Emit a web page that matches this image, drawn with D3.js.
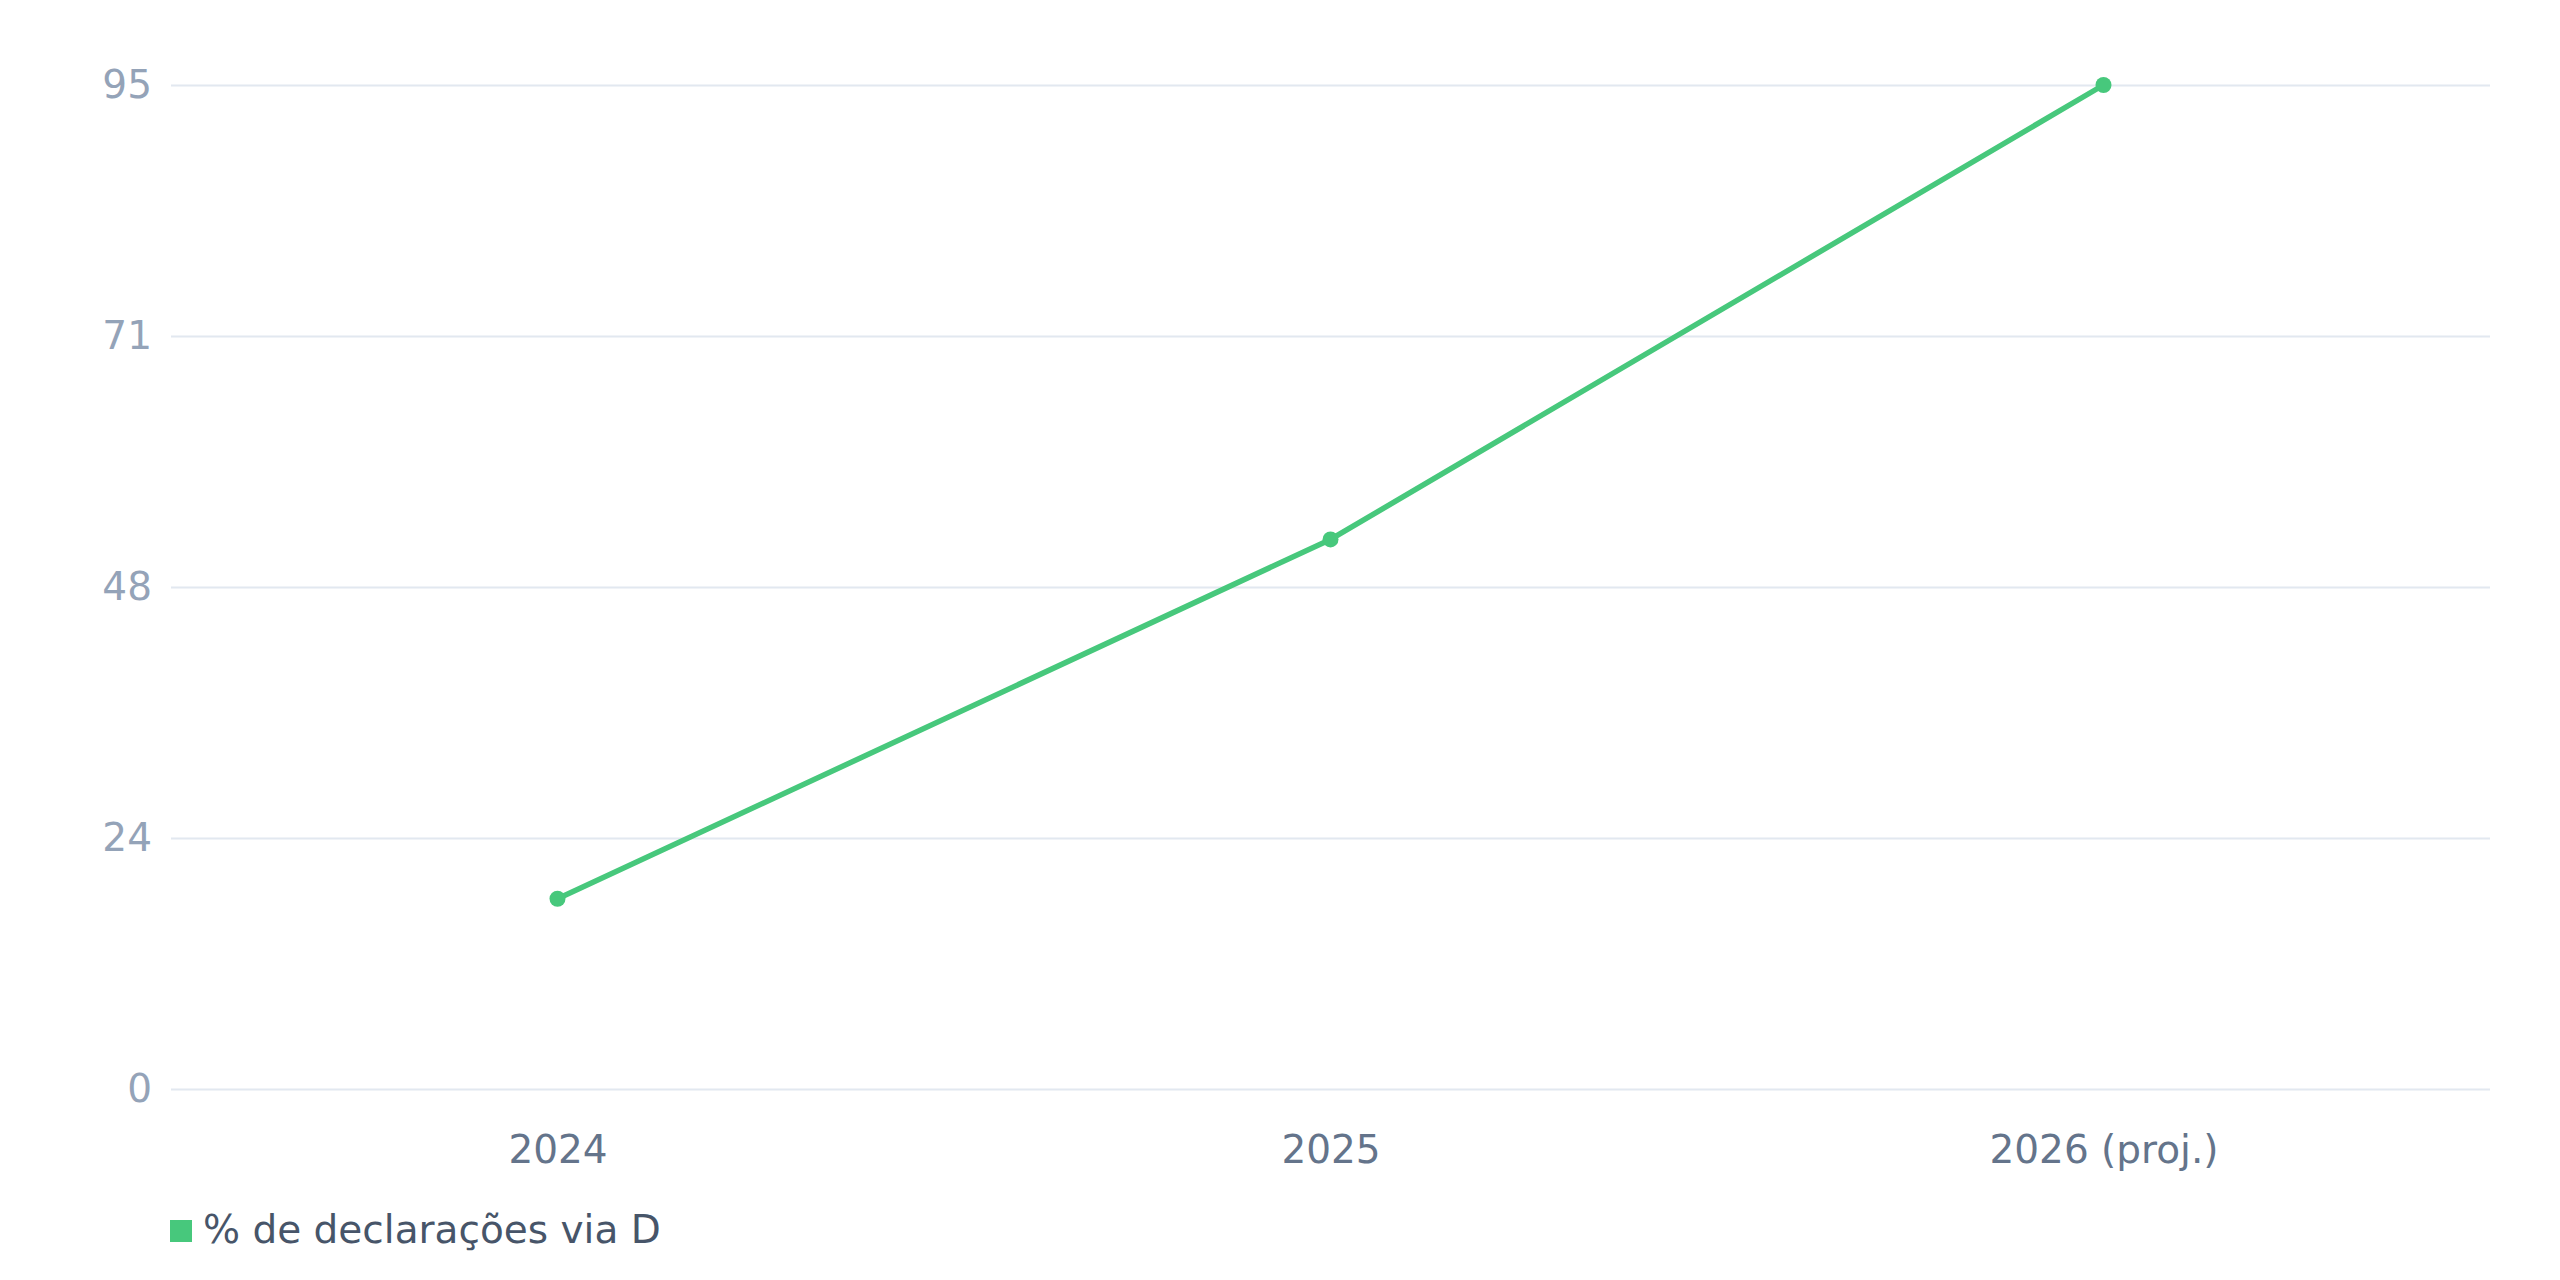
<!DOCTYPE html>
<html>
<head>
<meta charset="utf-8">
<script src="https://cdn.jsdelivr.net/npm/d3@7"></script>
<style>
  body { margin: 0; background: #fff; }
  text { font-family: "DejaVu Sans", sans-serif; }
</style>
</head>
<body>
<div id="chart"></div>
<script>
var categories = ["2024", "2025", "2026 (proj.)"];
var values = [18, 52, 95];
var yTickValues = [0, 23.75, 47.5, 71.25, 95];
var yTickLabels = ["0", "24", "48", "71", "95"];
var seriesName = "% de declarações via D";

var svgWidth = 2560;
var svgHeight = 1280;

var margin = { top: 85, right: 70, bottom: 191, left: 171 };
var width = svgWidth - margin.left - margin.right;
var height = svgHeight - margin.top - margin.bottom;

var green = "#47c87c";

var svg = d3.select("#chart")
  .append("svg")
  .attr("width", svgWidth)
  .attr("height", svgHeight);

var chartGroup = svg.append("g")
  .attr("transform", `translate(${margin.left}, ${margin.top})`);

// scales
var xScale = d3.scalePoint()
  .domain(categories)
  .range([0, width])
  .padding(0.5);

var yScale = d3.scaleLinear()
  .domain([0, 95])
  .range([height, 0]);

// y axis doubles as the gridlines
var yAxis = d3.axisLeft(yScale)
  .tickValues(yTickValues)
  .tickSize(-width)
  .tickPadding(19)
  .tickFormat(function(d, i) { return yTickLabels[i]; });

var yG = chartGroup.append("g").call(yAxis);
yG.select(".domain").remove();
yG.selectAll(".tick line").attr("stroke", "#e2e8f0").attr("stroke-width", 2);
yG.selectAll(".tick text")
  .attr("fill", "#94a3b8")
  .attr("font-size", 39)
  .attr("font-family", "DejaVu Sans");

// x axis
var xAxis = d3.axisBottom(xScale).tickSize(0);
var xG = chartGroup.append("g")
  .attr("transform", `translate(0, ${height})`)
  .call(xAxis);
xG.select(".domain").remove();
xG.selectAll(".tick text")
  .attr("y", 74)
  .attr("dy", 0)
  .attr("fill", "#64748b")
  .attr("font-size", 39)
  .attr("font-family", "DejaVu Sans");

// line
var line = d3.line()
  .x(function(d, i) { return xScale(categories[i]); })
  .y(function(d) { return yScale(d); });

chartGroup.append("path")
  .datum(values)
  .attr("d", line)
  .attr("fill", "none")
  .attr("stroke", green)
  .attr("stroke-width", 5.5)
  .attr("stroke-linejoin", "round");

chartGroup.selectAll(".dot")
  .data(values)
  .enter().append("circle")
  .attr("class", "dot")
  .attr("cx", function(d, i) { return xScale(categories[i]); })
  .attr("cy", function(d) { return yScale(d); })
  .attr("r", 8)
  .attr("fill", green);

// legend
var legend = svg.append("g")
  .attr("transform", "translate(170, 1220)");
legend.append("rect")
  .attr("width", 22)
  .attr("height", 22)
  .attr("fill", green);
legend.append("text")
  .attr("x", 33)
  .attr("y", 23)
  .attr("fill", "#475569")
  .attr("font-size", 39)
  .text(seriesName);
</script>
</body>
</html>
